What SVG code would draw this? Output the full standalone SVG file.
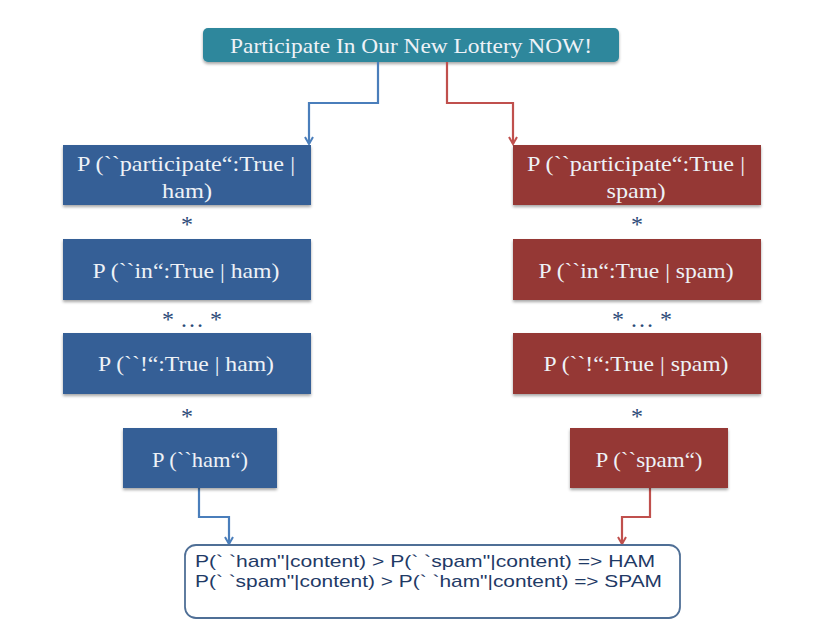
<svg xmlns="http://www.w3.org/2000/svg" width="838" height="641" viewBox="0 0 838 641">
<defs>
<filter id="sh" x="-5%" y="-5%" width="110%" height="120%">
<feDropShadow dx="0" dy="2" stdDeviation="1.5" flood-color="#000" flood-opacity="0.35"/>
</filter>
<marker id="ab" markerWidth="10" markerHeight="10" refX="8" refY="5" orient="auto" markerUnits="userSpaceOnUse" viewBox="0 0 10 10">
<path d="M1,1 L8,5 L1,9" fill="none" stroke="#4a7ebb" stroke-width="2"/>
</marker>
<marker id="ar" markerWidth="10" markerHeight="10" refX="8" refY="5" orient="auto" markerUnits="userSpaceOnUse" viewBox="0 0 10 10">
<path d="M1,1 L8,5 L1,9" fill="none" stroke="#c0504d" stroke-width="2"/>
</marker>
</defs>
<style>
.ham{fill:#355f96;filter:url(#sh)}
.spam{fill:#953735;filter:url(#sh)}
.t{font-family:"Liberation Serif",serif;font-size:22px;fill:#eef2f7;text-anchor:middle}
.star{font-family:"Liberation Serif",serif;font-size:24px;fill:#2c4a78;text-anchor:middle}
.cb{fill:none;stroke:#4a7ebb;stroke-width:2.2}
.cr{fill:none;stroke:#c0504d;stroke-width:2.2}
.res{font-family:"Liberation Sans",Arial,sans-serif;font-size:17px;fill:#1f3a66}
</style>
<rect width="838" height="641" fill="#ffffff"/>

<g id="top">
<rect x="203" y="28" width="416" height="34" rx="5" fill="#2f879c" filter="url(#sh)"/>
<text class="t" x="411" y="53" textLength="362" lengthAdjust="spacingAndGlyphs">Participate In Our New Lottery NOW!</text>
</g>

<g id="connectors">
<path class="cb" d="M378,62 V103 H309 V144" marker-end="url(#ab)"/>
<path class="cr" d="M447,62 V103 H513 V144" marker-end="url(#ar)"/>
<path class="cb" d="M199,488 V517 H229 V544" marker-end="url(#ab)"/>
<path class="cr" d="M650,488 V517 H622 V544" marker-end="url(#ar)"/>
</g>

<g id="ham1">
<rect class="ham" x="63" y="145" width="248" height="60"/>
<text class="t" x="186" y="171" textLength="218" lengthAdjust="spacingAndGlyphs">P (``participate“:True |</text>
<text class="t" x="187" y="198" textLength="50" lengthAdjust="spacingAndGlyphs">ham)</text>
</g>
<text class="star" x="187" y="232">*</text>
<g id="ham2">
<rect class="ham" x="63" y="239" width="248" height="61"/>
<text class="t" x="186" y="278" textLength="187" lengthAdjust="spacingAndGlyphs">P (``in“:True | ham)</text>
</g>
<text class="star" x="192" y="327" textLength="60" lengthAdjust="spacing">* … *</text>
<g id="ham3">
<rect class="ham" x="63" y="333" width="248" height="61"/>
<text class="t" x="186" y="371" textLength="176" lengthAdjust="spacingAndGlyphs">P (``!“:True | ham)</text>
</g>
<text class="star" x="187" y="424">*</text>
<g id="ham4">
<rect class="ham" x="123" y="428" width="154" height="60"/>
<text class="t" x="200" y="467" textLength="96" lengthAdjust="spacingAndGlyphs">P (``ham“)</text>
</g>

<g id="spam1">
<rect class="spam" x="513" y="145" width="248" height="60"/>
<text class="t" x="636" y="171" textLength="218" lengthAdjust="spacingAndGlyphs">P (``participate“:True |</text>
<text class="t" x="636" y="198" textLength="59" lengthAdjust="spacingAndGlyphs">spam)</text>
</g>
<text class="star" x="637" y="232">*</text>
<g id="spam2">
<rect class="spam" x="513" y="239" width="248" height="61"/>
<text class="t" x="636" y="278" textLength="195" lengthAdjust="spacingAndGlyphs">P (``in“:True | spam)</text>
</g>
<text class="star" x="642" y="327" textLength="60" lengthAdjust="spacing">* … *</text>
<g id="spam3">
<rect class="spam" x="513" y="333" width="248" height="61"/>
<text class="t" x="636" y="371" textLength="185" lengthAdjust="spacingAndGlyphs">P (``!“:True | spam)</text>
</g>
<text class="star" x="637" y="424">*</text>
<g id="spam4">
<rect class="spam" x="570" y="428" width="158" height="60"/>
<text class="t" x="649" y="467" textLength="107" lengthAdjust="spacingAndGlyphs">P (``spam“)</text>
</g>

<g id="result">
<rect x="185" y="545" width="495" height="73" rx="11" fill="#ffffff" stroke="#4f6f96" stroke-width="1.8"/>
<text class="res" x="195" y="567" textLength="460" lengthAdjust="spacingAndGlyphs">P(` `ham"|content) &gt; P(` `spam"|content) =&gt; HAM</text>
<text class="res" x="195" y="587" textLength="467" lengthAdjust="spacingAndGlyphs">P(` `spam"|content) &gt; P(` `ham"|content) =&gt; SPAM</text>
</g>
</svg>
